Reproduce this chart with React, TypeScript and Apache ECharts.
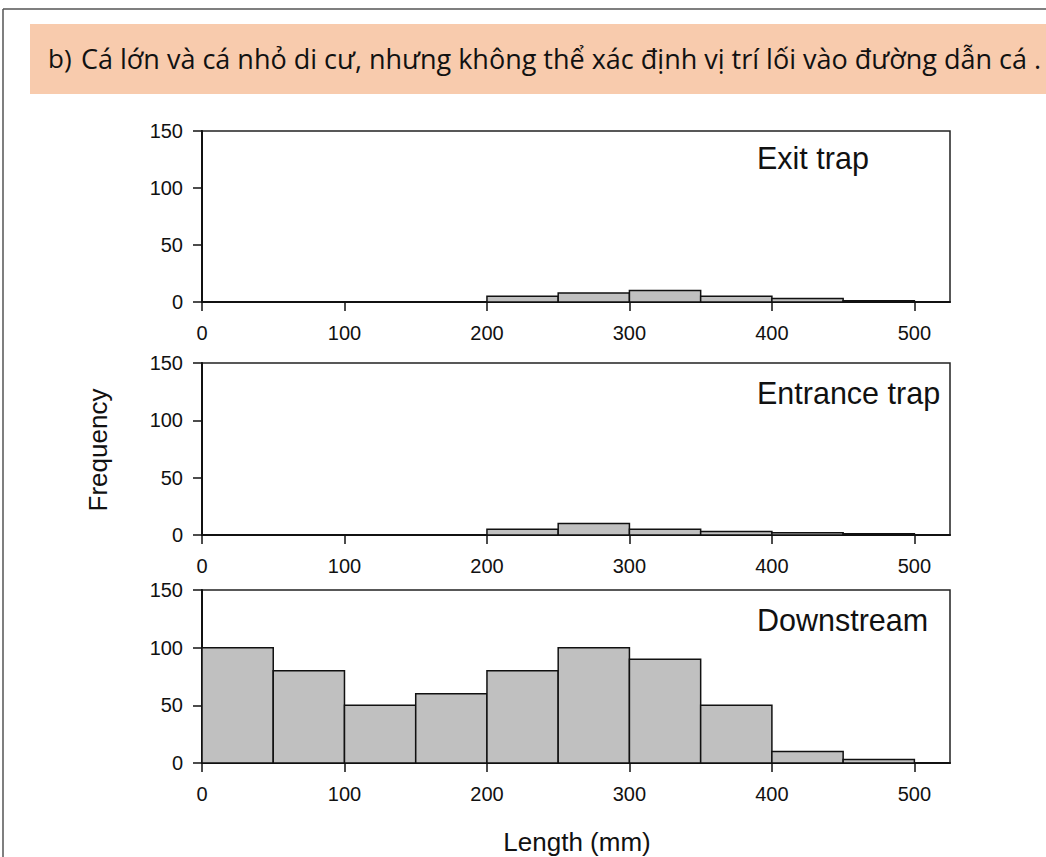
import React, { useEffect, useRef } from "react";
import * as echarts from "echarts";

const binStarts = [0, 50, 100, 150, 200, 250, 300, 350, 400, 450];
const binWidth = 50;
const exitTrap = [0, 0, 0, 0, 5, 8, 10, 5, 3, 1];
const entranceTrap = [0, 0, 0, 0, 5, 10, 5, 3, 2, 1];
const downstream = [100, 80, 50, 60, 80, 100, 90, 50, 10, 3];
const panelNames = ["Exit trap", "Entrance trap", "Downstream"];
const titleLabel = "b)";
const titleText = "Cá lớn và cá nhỏ di cư, nhưng không thể xác định vị trí lối vào đường dẫn cá .";

const FONT = "'Liberation Sans', Arial, sans-serif";

export default function App() {
  const ref = useRef<HTMLDivElement>(null);
  useEffect(() => {
    if (!ref.current) return;
    const chart = echarts.init(ref.current, null, { renderer: "svg" });
    const panels = [exitTrap, entranceTrap, downstream];
    const grids = [
      { left: 202, right: 96, top: 131, height: 171 },
      { left: 202, right: 96, top: 363, height: 172 },
      { left: 202, right: 96, top: 590, height: 173 },
    ].map((g) => ({ ...g, show: true, borderColor: "#222", borderWidth: 1.5, backgroundColor: "transparent" }));

    const xAxes = grids.map((_, i) => ({
      type: "value",
      gridIndex: i,
      min: 0,
      max: 525,
      interval: 100,
      axisLine: { show: true, onZero: false, lineStyle: { color: "#111", width: 2 } },
      axisTick: { show: true, length: 9, lineStyle: { color: "#111", width: 1.5 } },
      axisLabel: {
        color: "#111",
        fontSize: 20,
        fontFamily: FONT,
        margin: 21,
        showMaxLabel: false,
        formatter: (v: number) => (v <= 500 ? String(v) : ""),
      },
      splitLine: { show: false },
    }));
    const yAxes = grids.map((_, i) => ({
      type: "value",
      gridIndex: i,
      min: 0,
      max: 150,
      interval: 50,
      axisLine: { show: true, lineStyle: { color: "#111", width: 2 } },
      axisTick: { show: true, length: 9, lineStyle: { color: "#111", width: 1.5 } },
      axisLabel: { color: "#111", fontSize: 20, fontFamily: FONT, margin: 19 },
      splitLine: { show: false },
    }));

    const series = panels.map((vals, i) => ({
      type: "custom",
      xAxisIndex: i,
      yAxisIndex: i,
      data: vals.map((v, k) => [binStarts[k], binStarts[k] + binWidth, v]),
      encode: { x: [0, 1], y: 2 },
      renderItem: (params: any, api: any) => {
        const x0 = api.value(0);
        const x1 = api.value(1);
        const y = api.value(2);
        if (!y) return null;
        const p0 = api.coord([x0, y]);
        const p1 = api.coord([x1, 0]);
        return {
          type: "rect",
          shape: { x: p0[0], y: p0[1], width: p1[0] - p0[0], height: p1[1] - p0[1] },
          style: { fill: "#C0C0C0", stroke: "#111", lineWidth: 1.5 },
        };
      },
    }));

    const labelPos = [
      { x: 757, y: 158 },
      { x: 757, y: 393 },
      { x: 757, y: 620 },
    ];

    chart.setOption({
      animation: false,
      backgroundColor: "#ffffff",
      grid: grids,
      xAxis: xAxes,
      yAxis: yAxes,
      series,
      graphic: [
        { type: "line", shape: { x1: 3, y1: 9, x2: 1046, y2: 9 }, style: { stroke: "#555", lineWidth: 1.5 } },
        { type: "line", shape: { x1: 3, y1: 9, x2: 3, y2: 857 }, style: { stroke: "#555", lineWidth: 1.5 } },
        { type: "rect", shape: { x: 30, y: 24, width: 1020, height: 70 }, style: { fill: "#F8CBAD" } },
        {
          type: "text",
          x: 48,
          y: 58,
          style: { text: titleLabel, fontSize: 26, fontFamily: "'Open Sans', sans-serif", fill: "#111", verticalAlign: "middle" },
        },
        {
          type: "text",
          x: 81,
          y: 58,
          style: { text: titleText, fontSize: 27, fontFamily: "'Open Sans', sans-serif", fill: "#111", verticalAlign: "middle" },
        },
        ...panelNames.map((n, i) => ({
          type: "text",
          x: labelPos[i].x,
          y: labelPos[i].y,
          style: { text: n, fontSize: 30.5, fontFamily: FONT, fill: "#111", verticalAlign: "middle" },
        })),
        {
          type: "text",
          x: 98,
          y: 450,
          rotation: Math.PI / 2,
          style: { text: "Frequency", fontSize: 26, fontFamily: FONT, fill: "#111", align: "center", verticalAlign: "middle" },
        },
        {
          type: "text",
          x: 577,
          y: 842,
          style: { text: "Length (mm)", fontSize: 26, fontFamily: FONT, fill: "#111", align: "center", verticalAlign: "middle" },
        },
      ],
    });
    return () => chart.dispose();
  }, []);
  return <div ref={ref} style={{ position: "fixed", left: 0, top: 0, width: 1046, height: 857 }} />;
}
